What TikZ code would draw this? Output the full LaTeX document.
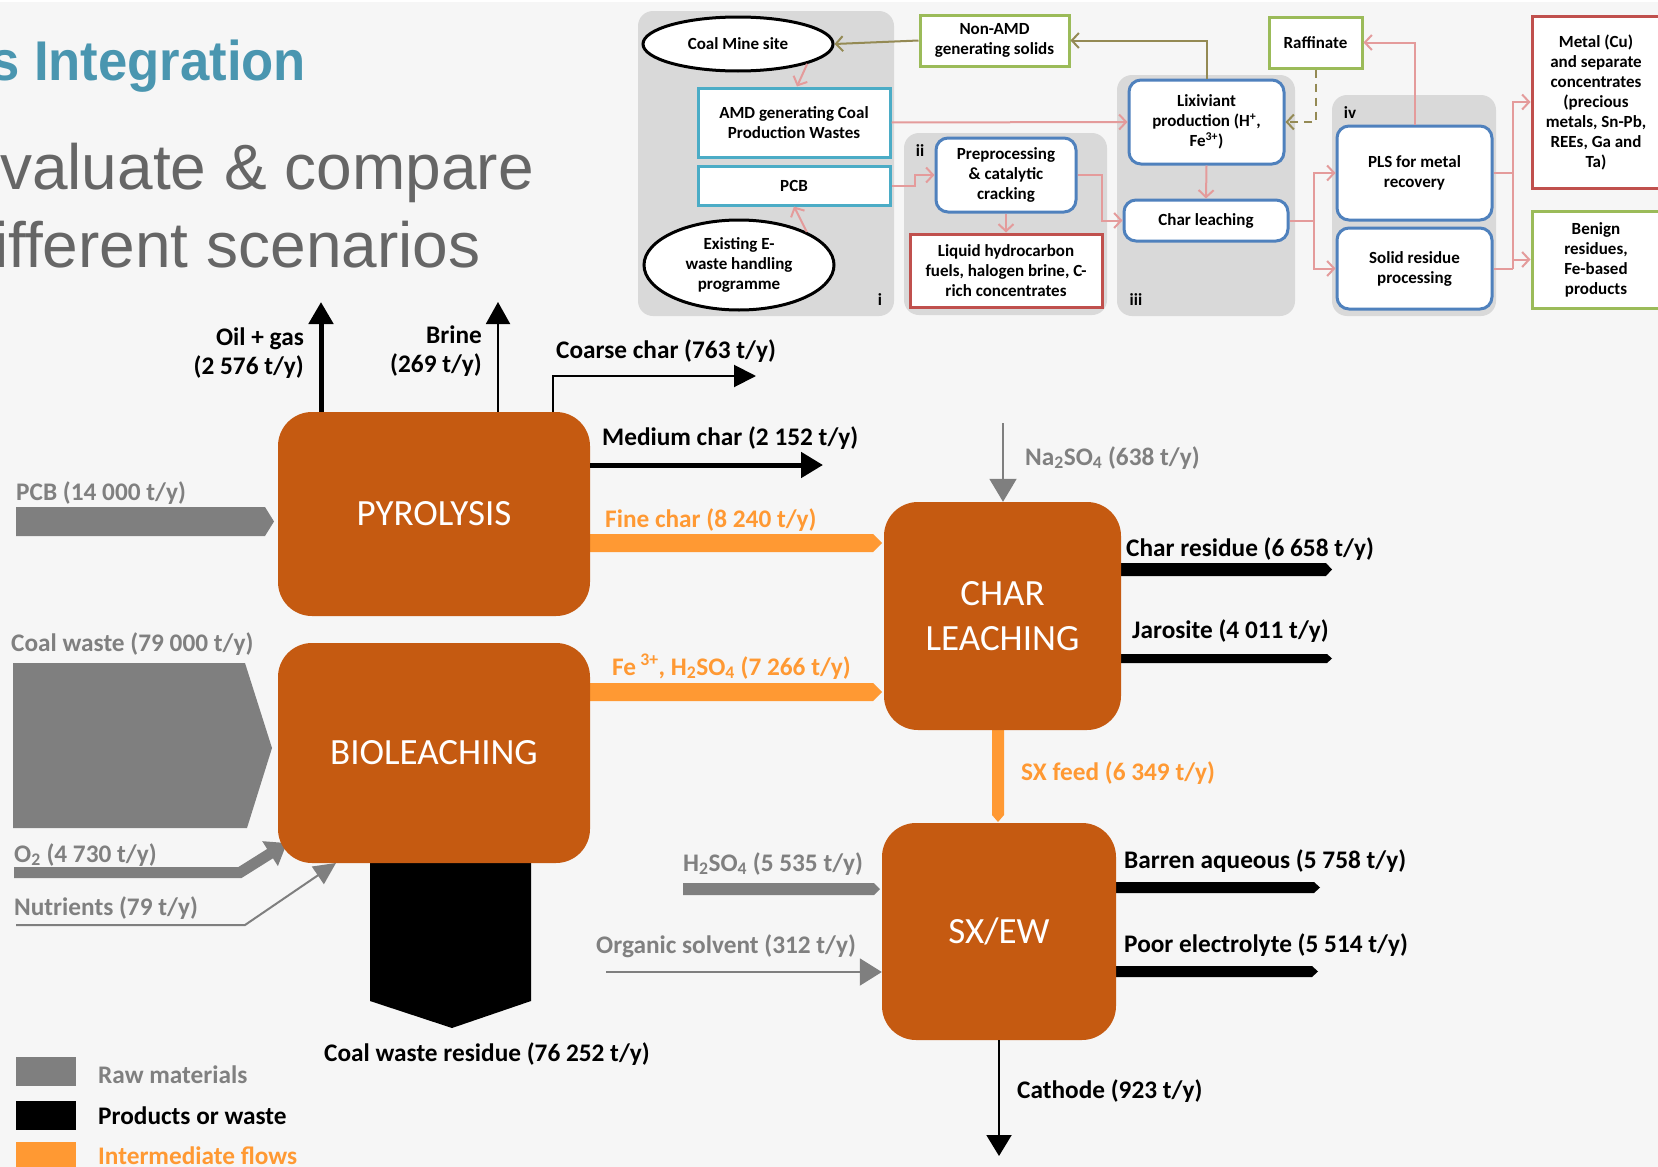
\documentclass[tikz,border=0pt]{standalone}
\usepackage{fontspec}
\usepackage{graphicx}
\setmainfont{Carlito}
\newfontfamily\arialfont{Liberation Sans}
\usetikzlibrary{arrows.meta,shapes.geometric}
\definecolor{bgc}{HTML}{F6F6F6}
\definecolor{panelc}{HTML}{D9D9D9}
\definecolor{procc}{HTML}{C55A11}
\definecolor{interc}{HTML}{FF9933}
\definecolor{rawc}{HTML}{7F7F7F}
\definecolor{rawtxt}{HTML}{808080}
\definecolor{titlec}{HTML}{4A96B0}
\definecolor{subc}{HTML}{666666}
\definecolor{pinkc}{HTML}{E49B9B}
\definecolor{olivec}{HTML}{948A54}
\definecolor{greenb}{HTML}{9BBB59}
\definecolor{cyanb}{HTML}{4BACC6}
\definecolor{blueb}{HTML}{4F81BD}
\definecolor{redb}{HTML}{C0504D}
\begin{document}
\begin{tikzpicture}[x=1pt,y=-1pt,
  topf/.style={font=\bfseries\fontsize{17}{20}\selectfont},
  sqbox/.style={rectangle, fill=white, line width=3pt, inner sep=0pt, align=center, topf},
  rbox/.style={sqbox, draw=blueb, rounded corners=12pt},
  ell/.style={ellipse, draw=black, fill=white, line width=3pt, inner sep=0pt, align=center, topf},
  plab/.style={topf, inner sep=0pt},
  panel/.style={fill=panelc, rounded corners=15pt},
  parr/.style={draw=pinkc, line width=2pt, -{Straight Barb[length=7pt,width=15pt]}},
  oarr/.style={draw=olivec, line width=2pt, -{Straight Barb[length=7pt,width=15pt]}},
  proc/.style={rectangle, rounded corners=34pt, fill=procc, text=white, inner sep=0pt, align=center, font=\fontsize{37}{45}\selectfont},
  lblf/.style={font=\bfseries\fontsize{25.3}{29}\selectfont},
  lbl/.style={inner sep=0pt, anchor=base west, lblf},
  rawl/.style={lbl, text=rawtxt},
  intl/.style={lbl, text=interc},
  bigtip/.style={-{Triangle[length=22pt,width=24pt]}},
]
\useasboundingbox (0,0) rectangle (1658,1167);
\clip (0,0) rectangle (1658,1167);
\fill[bgc] (0,0) rectangle (1658,1167);
\fill[white] (0,0) rectangle (1658,2);

% ---------- title ----------
\node[anchor=base west, inner sep=0pt, text=titlec, font=\arialfont\bfseries\fontsize{56}{60}\selectfont] (title) at (-10,80) {\scalebox{0.94}[1]{s Integration}};
\node[anchor=base west, inner sep=0pt, text=subc, font=\arialfont\fontsize{64}{70}\selectfont] (sub1) at (0,189) {valuate \& compare};
\node[anchor=base west, inner sep=0pt, text=subc, font=\arialfont\fontsize{64}{70}\selectfont] (sub2) at (-6,267) {ifferent scenarios};

% ---------- top right scheme ----------
\fill[panel] (638,11) rectangle (894,316);
\fill[panel] (904,133) rectangle (1107,315);
\fill[panel] (1117,75) rectangle (1295,316);
\fill[panel] (1332,95) rectangle (1496,316);
\node[plab] (pi) at (880,300) {i};
\node[plab] (pii) at (920,151) {ii};
\node[plab] (piii) at (1136,300) {iii};
\node[plab] (piv) at (1350,113) {iv};

\node[ell, minimum width=190, minimum height=54] (cms) at (738,44) {Coal Mine site};
\node[ell, minimum width=190, minimum height=90] (ew) at (739,265) {Existing E-\\waste handling\\programme};
\node[sqbox, draw=cyanb, minimum width=192, minimum height=69] (amd) at (794,122.5) {AMD generating Coal\\Production Wastes};
\node[sqbox, draw=cyanb, minimum width=192, minimum height=39] (pcb) at (794,185.5) {PCB};
\node[sqbox, draw=greenb, minimum width=149, minimum height=51] (nonamd) at (994.5,40.5) {Non-AMD\\generating solids};
\node[rbox, minimum width=140, minimum height=74] (pre) at (1006,175) {Preprocessing\\\& catalytic\\cracking};
\node[sqbox, draw=redb, minimum width=192, minimum height=73] (liq) at (1006,270.5) {Liquid hydrocarbon\\fuels, halogen brine, C-\\rich concentrates};
\node[rbox, minimum width=155, minimum height=84] (lix) at (1206.5,122) {Lixiviant\\production (H\textsuperscript{+},\\Fe\textsuperscript{3+})};
\node[rbox, minimum width=164, minimum height=41] (cl) at (1206,220.5) {Char leaching};
\node[sqbox, draw=greenb, minimum width=93, minimum height=51] (raff) at (1315.5,42.5) {Raffinate};
\node[rbox, minimum width=155, minimum height=94] (pls) at (1414.5,173) {PLS for metal\\recovery};
\node[rbox, minimum width=155, minimum height=81] (sol) at (1414.5,268.5) {Solid residue\\processing};
\node[sqbox, draw=redb, minimum width=128, minimum height=172] (metal) at (1596,102) {Metal (Cu)\\and separate\\concentrates\\(precious\\metals, Sn-Pb,\\REEs, Ga and\\Ta)};
\node[sqbox, draw=greenb, minimum width=128, minimum height=97] (ben) at (1596,259.5) {Benign\\residues,\\Fe-based\\products};

\draw[oarr] (nonamd.west) -- (cms.east);
\draw[oarr] (lix.north) |- (nonamd.east);
\draw[oarr, dashed, dash pattern=on 8pt off 6pt] (raff.south) |- (lix.east);
\draw[parr] (cms.-16) -- ([xshift=3pt]amd.north);
\draw[parr] (ew.26) -- (pcb.south);
\draw[parr] (amd.east) -- (lix.west);
\draw[parr] (pcb.east) -- ++(23,0) |- (pre.west);
\draw[parr] (pre.south) -- (liq.north);
\draw[parr] (pre.east) -- ++(24,0) |- (cl.west);
\draw[parr] (lix.south) -- (cl.north);
\draw[parr] (cl.east) -- ++(24,0) coordinate (br1) |- (pls.west);
\draw[parr] (br1) |- (sol.west);
\draw[parr] (pls.north) |- (raff.east);
\draw[pinkc, line width=2pt] (pls.east) -- ++(19,0) coordinate (br2);
\draw[pinkc, line width=2pt] (sol.east) -- ++(19,0) coordinate (br3);
\draw[pinkc, line width=2pt] (br2) -- (br3);
\draw[parr] (br2) |- (metal.west);
\draw[parr] (br3) |- (ben.west);

% ---------- main flow sheet ----------
% raw material inputs
\fill[rawc] (16,507) -- (265,507) -- (274,521.5) -- (265,536) -- (16,536) -- cycle;
\fill[rawc] (13,663) -- (245,663) -- (272,748) -- (247,828) -- (13,828) -- cycle;
\fill[rawc] (683,883) -- (874,883) -- (880,889) -- (874,895) -- (683,895) -- cycle;
\coordinate (o2a) at (14,872.5);
\coordinate (o2b) at (240,872.5);
\coordinate (o2c) at (287,843);
\draw[rawc, line width=11pt, line join=miter, -{Triangle[length=20pt,width=28pt]}] (o2a) -- (o2b) -- (o2c);
\coordinate (nuta) at (16,925);
\coordinate (nutb) at (245,925);
\coordinate (nutc) at (336,863);
\draw[rawc, line width=2pt, -{Triangle[length=22pt,width=21pt]}] (nuta) -- (nutb) -- (nutc);

% intermediate flows
\fill[interc] (590,534) -- (873,534) -- (882,543) -- (873,552) -- (590,552) -- cycle;
\fill[interc] (590,683) -- (873,683) -- (882,692) -- (873,701) -- (590,701) -- cycle;
\fill[interc] (992,728) -- (1004,728) -- (1004,815) -- (998,822) -- (992,815) -- cycle;

% products or waste
\fill[black] (1119,563) -- (1326,563) -- (1332,569.5) -- (1326,576) -- (1119,576) -- cycle;
\fill[black] (1119,654) -- (1327,654) -- (1332,658.5) -- (1327,663) -- (1119,663) -- cycle;
\fill[black] (1114,882) -- (1314,882) -- (1320,887.5) -- (1314,893) -- (1114,893) -- cycle;
\fill[black] (1114,966) -- (1312,966) -- (1318,971.5) -- (1312,977) -- (1114,977) -- cycle;
\fill[black] (370,860) -- (531,860) -- (531,1001) -- (452,1028) -- (370,1001) -- cycle;

% process boxes
\node[proc, minimum width=312, minimum height=204] (pyro) at (434,514) {PYROLYSIS};
\node[proc, minimum width=312, minimum height=220] (bio) at (434,753) {BIOLEACHING};
\node[proc, minimum width=237, minimum height=228] (chl) at (1002.5,616) {CHAR\\LEACHING};
\node[proc, minimum width=234, minimum height=217] (sx) at (999,931.5) {SX/EW};

% line arrows
\coordinate (oiltop) at (321,302);
\draw[black, line width=5pt, bigtip] (oiltop |- pyro.north) -- (oiltop);
\coordinate (brinetop) at (498,302);
\draw[black, line width=2pt, bigtip] (brinetop |- pyro.north) -- (brinetop);
\coordinate (coarsex) at (553,0);
\coordinate (coarseend) at (756,376);
\draw[black, line width=2pt, -{Triangle[length=22pt,width=22pt]}] (coarsex |- pyro.north) |- (coarseend);
\coordinate (medend) at (823,465);
\draw[black, line width=5pt, -{Triangle[length=22pt,width=25pt]}] (medend -| pyro.east) -- (medend);
\coordinate (nastart) at (1003,423);
\draw[rawc, line width=2pt, -{Triangle[length=23pt,width=27pt]}] (nastart) -- (nastart |- chl.north);
\coordinate (orgstart) at (606,972);
\draw[rawc, line width=2pt, -{Triangle[length=22pt,width=27pt]}] (orgstart) -- (orgstart -| sx.west);
\coordinate (cathend) at (999,1156);
\draw[black, line width=2pt, -{Triangle[length=21pt,width=25pt]}] (cathend |- sx.south) -- (cathend);

% labels
\node[rawl] (lpcb) at (16,500) {PCB (14 000 t/y)};
\node[inner sep=0pt, anchor=east, align=right, lblf] (loil) at (304,353) {Oil + gas\\(2 576 t/y)};
\node[inner sep=0pt, anchor=east, align=right, lblf] (lbrine) at (482,351) {Brine\\(269 t/y)};
\node[lbl] (lcoarse) at (556,358) {Coarse char (763 t/y)};
\node[lbl] (lmed) at (602,445) {Medium char (2 152 t/y)};
\node[rawl] (lna) at (1025,465) {Na\textsubscript{2}SO\textsubscript{4} (638 t/y)};
\node[intl] (lfine) at (605,527) {Fine char (8 240 t/y)};
\node[lbl] (lcres) at (1126,556) {Char residue (6 658 t/y)};
\node[lbl] (ljar) at (1132,638) {Jarosite (4 011 t/y)};
\node[intl] (lfe) at (612,675) {Fe\,\textsuperscript{3+}, H\textsubscript{2}SO\textsubscript{4} (7 266 t/y)};
\node[intl] (lsx) at (1021,780) {SX feed (6 349 t/y)};
\node[rawl] (lh2) at (683,871) {H\textsubscript{2}SO\textsubscript{4} (5 535 t/y)};
\node[rawl] (lorg) at (596,953) {Organic solvent (312 t/y)};
\node[lbl] (lbar) at (1124,868) {Barren aqueous (5 758 t/y)};
\node[lbl] (lpoor) at (1124,952) {Poor electrolyte (5 514 t/y)};
\node[lbl] (lcath) at (1017,1098) {Cathode (923 t/y)};
\node[lbl] (lcwr) at (324,1061) {Coal waste residue (76 252 t/y)};
\node[rawl] (lcw) at (11,651) {Coal waste (79 000 t/y)};
\node[rawl] (lo2) at (14,862) {O\textsubscript{2} (4 730 t/y)};
\node[rawl] (lnut) at (14,915) {Nutrients (79 t/y)};

% legend
\fill[rawc] (16,1057) rectangle (76,1086);
\fill[black] (16,1101) rectangle (76,1130);
\fill[interc] (16,1142) rectangle (76,1175);
\node[rawl] (leg1) at (98,1083) {Raw materials};
\node[lbl] (leg2) at (98,1124) {Products or waste};
\node[intl] (leg3) at (98,1164) {Intermediate flows};
\end{tikzpicture}
\end{document}
